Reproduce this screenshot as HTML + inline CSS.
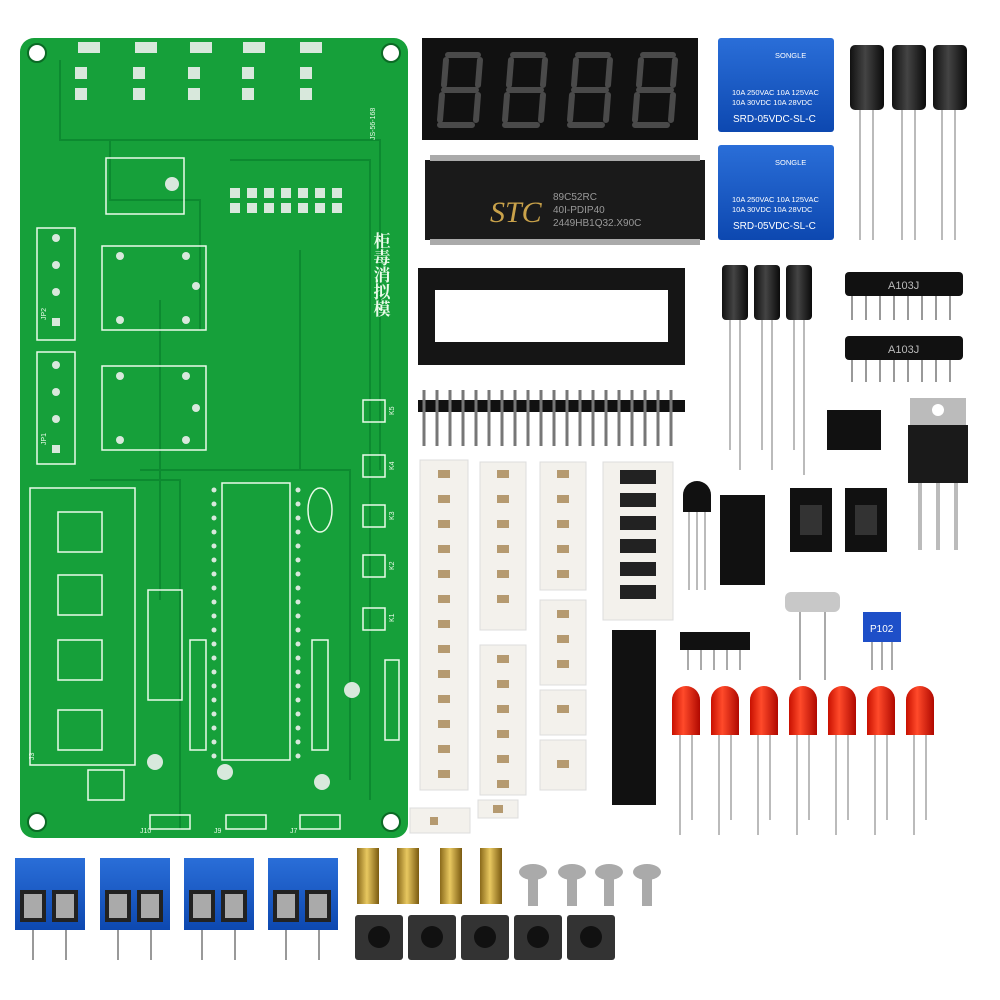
<!DOCTYPE html>
<html><head><meta charset="utf-8"><style>
html,body{margin:0;padding:0;background:#fff;}
svg{display:block}
text{font-family:"Liberation Sans","Noto Sans CJK SC",sans-serif;}
</style></head><body>
<svg width="1000" height="1000" viewBox="0 0 1000 1000" xmlns="http://www.w3.org/2000/svg">
<defs>
<linearGradient id="cap" x1="0" x2="1"><stop offset="0" stop-color="#111"/><stop offset=".45" stop-color="#444"/><stop offset="1" stop-color="#0a0a0a"/></linearGradient>
<linearGradient id="led" x1="0" x2="1"><stop offset="0" stop-color="#c81000"/><stop offset=".4" stop-color="#ff4a2a"/><stop offset="1" stop-color="#b00800"/></linearGradient>
<linearGradient id="brass" x1="0" x2="1"><stop offset="0" stop-color="#8a6a1a"/><stop offset=".45" stop-color="#e8c860"/><stop offset="1" stop-color="#7a5a10"/></linearGradient>
<linearGradient id="blue" x1="0" y1="0" x2="0" y2="1"><stop offset="0" stop-color="#2a6ed8"/><stop offset="1" stop-color="#0d48b0"/></linearGradient>
</defs>

<!-- PCB -->
<rect x="20" y="38" width="388" height="800" rx="14" fill="#16a03a"/>
<g fill="#fff" stroke="#0b6a25" stroke-width="2"><circle cx="37" cy="53" r="9"/><circle cx="391" cy="53" r="9"/><circle cx="37" cy="822" r="9"/><circle cx="391" cy="822" r="9"/></g>
<g fill="none" stroke="#0c8a30" stroke-width="2">
<path d="M60 60 V140 H380 V470"/><path d="M110 140 V200 H200 V330"/><path d="M230 160 H370 V800"/><path d="M90 480 H180 V830"/><path d="M300 250 V470 H340"/><path d="M140 470 H350 V780"/><path d="M160 300 V600"/>
</g>
<g fill="none" stroke="#eafbe9" stroke-width="1.5">
<rect x="37" y="228" width="38" height="112"/><rect x="37" y="352" width="38" height="112"/>
<rect x="102" y="246" width="104" height="84"/><rect x="102" y="366" width="104" height="84"/>
<rect x="106" y="158" width="78" height="56"/>
<rect x="30" y="488" width="105" height="277"/>
<rect x="222" y="483" width="68" height="277"/>
<rect x="363" y="400" width="22" height="22"/><rect x="363" y="455" width="22" height="22"/><rect x="363" y="505" width="22" height="22"/><rect x="363" y="555" width="22" height="22"/><rect x="363" y="608" width="22" height="22"/>
<rect x="58" y="512" width="44" height="40"/><rect x="58" y="575" width="44" height="40"/><rect x="58" y="640" width="44" height="40"/><rect x="58" y="710" width="44" height="40"/>
<rect x="190" y="640" width="16" height="110"/><rect x="312" y="640" width="16" height="110"/>
<rect x="148" y="590" width="34" height="110"/>
<rect x="88" y="770" width="36" height="30"/>
<rect x="150" y="815" width="40" height="14"/><rect x="226" y="815" width="40" height="14"/><rect x="300" y="815" width="40" height="14"/>
<rect x="385" y="660" width="14" height="80"/>
<ellipse cx="320" cy="510" rx="12" ry="22"/>
</g>
<g fill="#d8e8dc">
<circle cx="56" cy="238" r="4"/><circle cx="56" cy="265" r="4"/><circle cx="56" cy="292" r="4"/><rect x="52" y="318" width="8" height="8"/>
<circle cx="56" cy="365" r="4"/><circle cx="56" cy="392" r="4"/><circle cx="56" cy="419" r="4"/><rect x="52" y="445" width="8" height="8"/>
<circle cx="120" cy="256" r="4"/><circle cx="186" cy="256" r="4"/><circle cx="196" cy="286" r="4"/><circle cx="120" cy="320" r="4"/><circle cx="186" cy="320" r="4"/>
<circle cx="120" cy="376" r="4"/><circle cx="186" cy="376" r="4"/><circle cx="196" cy="408" r="4"/><circle cx="120" cy="440" r="4"/><circle cx="186" cy="440" r="4"/>
<circle cx="172" cy="184" r="7"/>
</g>
<g fill="#d8e8dc">
<rect x="78" y="42" width="22" height="11"/><rect x="135" y="42" width="22" height="11"/><rect x="190" y="42" width="22" height="11"/><rect x="243" y="42" width="22" height="11"/><rect x="300" y="42" width="22" height="11"/>
<rect x="75" y="67" width="12" height="12"/><rect x="75" y="88" width="12" height="12"/>
<rect x="133" y="67" width="12" height="12"/><rect x="133" y="88" width="12" height="12"/>
<rect x="188" y="67" width="12" height="12"/><rect x="188" y="88" width="12" height="12"/>
<rect x="242" y="67" width="12" height="12"/><rect x="242" y="88" width="12" height="12"/>
<rect x="300" y="67" width="12" height="12"/><rect x="300" y="88" width="12" height="12"/>
<rect x="230" y="188" width="10" height="10"/><rect x="247" y="188" width="10" height="10"/><rect x="264" y="188" width="10" height="10"/><rect x="281" y="188" width="10" height="10"/><rect x="298" y="188" width="10" height="10"/><rect x="315" y="188" width="10" height="10"/><rect x="332" y="188" width="10" height="10"/>
<rect x="230" y="203" width="10" height="10"/><rect x="247" y="203" width="10" height="10"/><rect x="264" y="203" width="10" height="10"/><rect x="281" y="203" width="10" height="10"/><rect x="298" y="203" width="10" height="10"/><rect x="315" y="203" width="10" height="10"/><rect x="332" y="203" width="10" height="10"/>
</g>
<g fill="#d8e8dc">
<circle cx="214" cy="490" r="2.5"/><circle cx="214" cy="504" r="2.5"/><circle cx="214" cy="518" r="2.5"/><circle cx="214" cy="532" r="2.5"/><circle cx="214" cy="546" r="2.5"/><circle cx="214" cy="560" r="2.5"/><circle cx="214" cy="574" r="2.5"/><circle cx="214" cy="588" r="2.5"/><circle cx="214" cy="602" r="2.5"/><circle cx="214" cy="616" r="2.5"/><circle cx="214" cy="630" r="2.5"/><circle cx="214" cy="644" r="2.5"/><circle cx="214" cy="658" r="2.5"/><circle cx="214" cy="672" r="2.5"/><circle cx="214" cy="686" r="2.5"/><circle cx="214" cy="700" r="2.5"/><circle cx="214" cy="714" r="2.5"/><circle cx="214" cy="728" r="2.5"/><circle cx="214" cy="742" r="2.5"/><circle cx="214" cy="756" r="2.5"/>
<circle cx="298" cy="490" r="2.5"/><circle cx="298" cy="504" r="2.5"/><circle cx="298" cy="518" r="2.5"/><circle cx="298" cy="532" r="2.5"/><circle cx="298" cy="546" r="2.5"/><circle cx="298" cy="560" r="2.5"/><circle cx="298" cy="574" r="2.5"/><circle cx="298" cy="588" r="2.5"/><circle cx="298" cy="602" r="2.5"/><circle cx="298" cy="616" r="2.5"/><circle cx="298" cy="630" r="2.5"/><circle cx="298" cy="644" r="2.5"/><circle cx="298" cy="658" r="2.5"/><circle cx="298" cy="672" r="2.5"/><circle cx="298" cy="686" r="2.5"/><circle cx="298" cy="700" r="2.5"/><circle cx="298" cy="714" r="2.5"/><circle cx="298" cy="728" r="2.5"/><circle cx="298" cy="742" r="2.5"/><circle cx="298" cy="756" r="2.5"/>
<circle cx="155" cy="762" r="8"/><circle cx="225" cy="772" r="8"/><circle cx="322" cy="782" r="8"/><circle cx="352" cy="690" r="8"/>
</g>
<g fill="#eafbe9" font-size="7">
<text x="375" y="140" transform="rotate(-90 375 140)">JS-56-168</text>
<text x="46" y="320" transform="rotate(-90 46 320)">JP2</text>
<text x="46" y="445" transform="rotate(-90 46 445)">JP1</text>
<text x="34" y="760" transform="rotate(-90 34 760)">J3</text>
<text x="394" y="415" transform="rotate(-90 394 415)">K5</text>
<text x="394" y="470" transform="rotate(-90 394 470)">K4</text>
<text x="394" y="520" transform="rotate(-90 394 520)">K3</text>
<text x="394" y="570" transform="rotate(-90 394 570)">K2</text>
<text x="394" y="622" transform="rotate(-90 394 622)">K1</text>
<text x="140" y="833">J10</text><text x="214" y="833">J9</text><text x="290" y="833">J7</text>
</g>
<text x="382" y="232" fill="#eafbe9" font-size="17" font-weight="bold" writing-mode="tb" style="font-family:'Noto Serif CJK SC','Noto Sans CJK SC',serif">柜毒消拟模</text>

<!-- 7-seg display -->
<rect x="422" y="38" width="276" height="102" fill="#111"/>
<g fill="none" stroke="#4a4a4a" stroke-width="6" stroke-linecap="round">
<g id="dig"><path d="M448 55 H478 M446 60 L444 85 M480 60 L478 85 M444 90 H476 M442 95 L440 120 M478 95 L476 120 M440 125 H472"/></g>
<use href="#dig" x="65"/><use href="#dig" x="130"/><use href="#dig" x="195"/>
</g>
<!-- relays -->
<g>
<rect x="718" y="38" width="116" height="94" rx="3" fill="url(#blue)"/>
<rect x="718" y="145" width="116" height="95" rx="3" fill="url(#blue)"/>
<g fill="#fff" font-size="7.5"><text x="775" y="58">SONGLE</text><text x="732" y="95">10A 250VAC  10A 125VAC</text><text x="732" y="105">10A  30VDC  10A  28VDC</text><text x="733" y="122" font-size="10">SRD-05VDC-SL-C</text>
<text x="775" y="165">SONGLE</text><text x="732" y="202">10A 250VAC  10A 125VAC</text><text x="732" y="212">10A  30VDC  10A  28VDC</text><text x="733" y="229" font-size="10">SRD-05VDC-SL-C</text></g>
</g>
<g stroke="#bbb" stroke-width="2"><path d="M860 110V240M873 110V240M902 110V240M915 110V240M942 110V240M955 110V240"/></g>
<rect x="850" y="45" width="34" height="65" rx="5" fill="url(#cap)"/><rect x="892" y="45" width="34" height="65" rx="5" fill="url(#cap)"/><rect x="933" y="45" width="34" height="65" rx="5" fill="url(#cap)"/>
<!-- IC -->
<rect x="425" y="160" width="280" height="80" fill="#1a1a1a"/>
<g fill="#aaa"><rect x="430" y="155" width="270" height="6"/><rect x="430" y="239" width="270" height="6"/></g>
<text x="490" y="222" fill="#c9a24a" font-size="30" font-style="italic" style="font-family:'Liberation Serif',serif">STC</text>
<g fill="#999" font-size="10"><text x="553" y="200">89C52RC</text><text x="553" y="213">40I-PDIP40</text><text x="553" y="226">2449HB1Q32.X90C</text></g>
<!-- socket -->
<rect x="418" y="268" width="267" height="97" fill="#151515"/>
<rect x="435" y="290" width="233" height="52" fill="#fff"/>
<g stroke="#bbb" stroke-width="2"><path d="M730 320V450M740 320V470M762 320V450M772 320V470M794 320V450M804 320V475"/></g>
<rect x="722" y="265" width="26" height="55" rx="4" fill="url(#cap)"/><rect x="754" y="265" width="26" height="55" rx="4" fill="url(#cap)"/><rect x="786" y="265" width="26" height="55" rx="4" fill="url(#cap)"/>
<g stroke="#999" stroke-width="2"><path d="M852 295V320M866 295V320M880 295V320M894 295V320M908 295V320M922 295V320M936 295V320M950 295V320M852 358V382M866 358V382M880 358V382M894 358V382M908 358V382M922 358V382M936 358V382M950 358V382"/></g>
<rect x="845" y="272" width="118" height="24" rx="4" fill="#111"/><rect x="845" y="336" width="118" height="24" rx="4" fill="#111"/>
<text x="888" y="289" fill="#bbb" font-size="11">A103J</text><text x="888" y="353" fill="#bbb" font-size="11">A103J</text>
<rect x="418" y="400" width="267" height="12" fill="#111"/>
<g stroke="#777" stroke-width="3"><path d="M424 390V446M437 390V446M450 390V446M463 390V446M476 390V446M489 390V446M502 390V446M515 390V446M528 390V446M541 390V446M554 390V446M567 390V446M580 390V446M593 390V446M606 390V446M619 390V446M632 390V446M645 390V446M658 390V446M671 390V446"/></g>
<rect x="827" y="410" width="54" height="40" fill="#111"/>
<rect x="910" y="398" width="56" height="28" fill="#bbb"/><circle cx="938" cy="410" r="6" fill="#fff"/>
<rect x="908" y="425" width="60" height="58" fill="#1a1a1a"/>
<g stroke="#bbb" stroke-width="4"><path d="M920 483V550M938 483V550M956 483V550"/></g>
<g fill="#f3f1ec" stroke="#ddd">
<rect x="420" y="460" width="48" height="330"/><rect x="480" y="462" width="46" height="168"/><rect x="480" y="645" width="46" height="150"/>
<rect x="540" y="462" width="46" height="128"/><rect x="540" y="600" width="46" height="85"/><rect x="540" y="690" width="46" height="45"/><rect x="540" y="740" width="46" height="50"/>
<rect x="603" y="462" width="70" height="158"/><rect x="410" y="808" width="60" height="25"/><rect x="478" y="800" width="40" height="18"/>
</g>
<g fill="#b59a70">
<rect x="438" y="470" width="12" height="8"/><rect x="438" y="495" width="12" height="8"/><rect x="438" y="520" width="12" height="8"/><rect x="438" y="545" width="12" height="8"/><rect x="438" y="570" width="12" height="8"/><rect x="438" y="595" width="12" height="8"/><rect x="438" y="620" width="12" height="8"/><rect x="438" y="645" width="12" height="8"/><rect x="438" y="670" width="12" height="8"/><rect x="438" y="695" width="12" height="8"/><rect x="438" y="720" width="12" height="8"/><rect x="438" y="745" width="12" height="8"/><rect x="438" y="770" width="12" height="8"/>
<rect x="497" y="470" width="12" height="8"/><rect x="497" y="495" width="12" height="8"/><rect x="497" y="520" width="12" height="8"/><rect x="497" y="545" width="12" height="8"/><rect x="497" y="570" width="12" height="8"/><rect x="497" y="595" width="12" height="8"/>
<rect x="497" y="655" width="12" height="8"/><rect x="497" y="680" width="12" height="8"/><rect x="497" y="705" width="12" height="8"/><rect x="497" y="730" width="12" height="8"/><rect x="497" y="755" width="12" height="8"/><rect x="497" y="780" width="12" height="8"/>
<rect x="557" y="470" width="12" height="8"/><rect x="557" y="495" width="12" height="8"/><rect x="557" y="520" width="12" height="8"/><rect x="557" y="545" width="12" height="8"/><rect x="557" y="570" width="12" height="8"/>
<rect x="557" y="610" width="12" height="8"/><rect x="557" y="635" width="12" height="8"/><rect x="557" y="660" width="12" height="8"/><rect x="557" y="705" width="12" height="8"/><rect x="557" y="760" width="12" height="8"/>
<rect x="430" y="817" width="8" height="8"/><rect x="493" y="805" width="10" height="8"/>
</g>
<g fill="#222"><rect x="620" y="470" width="36" height="14"/><rect x="620" y="493" width="36" height="14"/><rect x="620" y="516" width="36" height="14"/><rect x="620" y="539" width="36" height="14"/><rect x="620" y="562" width="36" height="14"/><rect x="620" y="585" width="36" height="14"/></g>
<rect x="612" y="630" width="44" height="175" fill="#111"/>
<path d="M683 495 a14 14 0 0 1 28 0 V512 H683Z" fill="#111"/>
<g stroke="#bbb" stroke-width="2"><path d="M689 512V590M697 512V590M705 512V590"/></g>
<rect x="720" y="495" width="45" height="90" fill="#111"/>
<rect x="790" y="488" width="42" height="64" fill="#111"/><rect x="845" y="488" width="42" height="64" fill="#111"/>
<rect x="800" y="505" width="22" height="30" fill="#333"/><rect x="855" y="505" width="22" height="30" fill="#333"/>
<rect x="785" y="592" width="55" height="20" rx="6" fill="#c8c8c8"/>
<g stroke="#aaa" stroke-width="2"><path d="M800 612V680M825 612V680M872 640V670M882 640V670M892 640V670M688 650V670M701 650V670M714 650V670M727 650V670M740 650V670"/></g>
<rect x="863" y="612" width="38" height="30" fill="#1e4fc8"/><text x="870" y="632" fill="#fff" font-size="10">P102</text>
<rect x="680" y="632" width="70" height="18" fill="#111"/>
<g stroke="#bbb" stroke-width="2"><path d="M680 735V835M692 735V820M719 735V835M731 735V820M758 735V835M770 735V820M797 735V835M809 735V820M836 735V835M848 735V820M875 735V835M887 735V820M914 735V835M926 735V820"/></g>
<g fill="url(#led)">
<path d="M672 735V700a14 14 0 0 1 28 0V735Z"/><path d="M711 735V700a14 14 0 0 1 28 0V735Z"/><path d="M750 735V700a14 14 0 0 1 28 0V735Z"/><path d="M789 735V700a14 14 0 0 1 28 0V735Z"/><path d="M828 735V700a14 14 0 0 1 28 0V735Z"/><path d="M867 735V700a14 14 0 0 1 28 0V735Z"/><path d="M906 735V700a14 14 0 0 1 28 0V735Z"/>
</g>
<g id="tb">
<rect x="15" y="858" width="70" height="72" fill="url(#blue)"/>
<rect x="20" y="890" width="26" height="32" fill="#222"/><rect x="52" y="890" width="26" height="32" fill="#222"/>
<rect x="24" y="894" width="18" height="24" fill="#aaa"/><rect x="56" y="894" width="18" height="24" fill="#aaa"/>
<path d="M33 930V960M66 930V960" stroke="#999" stroke-width="2"/>
</g>
<use href="#tb" x="85"/><use href="#tb" x="169"/><use href="#tb" x="253"/>
<rect x="357" y="848" width="22" height="56" fill="url(#brass)"/><rect x="397" y="848" width="22" height="56" fill="url(#brass)"/><rect x="440" y="848" width="22" height="56" fill="url(#brass)"/><rect x="480" y="848" width="22" height="56" fill="url(#brass)"/>
<g fill="#aaa"><ellipse cx="533" cy="872" rx="14" ry="8"/><ellipse cx="572" cy="872" rx="14" ry="8"/><ellipse cx="609" cy="872" rx="14" ry="8"/><ellipse cx="647" cy="872" rx="14" ry="8"/>
<rect x="528" y="876" width="10" height="30"/><rect x="567" y="876" width="10" height="30"/><rect x="604" y="876" width="10" height="30"/><rect x="642" y="876" width="10" height="30"/></g>
<g id="bt"><rect x="355" y="915" width="48" height="45" rx="3" fill="#333"/><circle cx="379" cy="937" r="11" fill="#111"/></g>
<use href="#bt" x="53"/><use href="#bt" x="106"/><use href="#bt" x="159"/><use href="#bt" x="212"/>
</svg>
</body></html>
